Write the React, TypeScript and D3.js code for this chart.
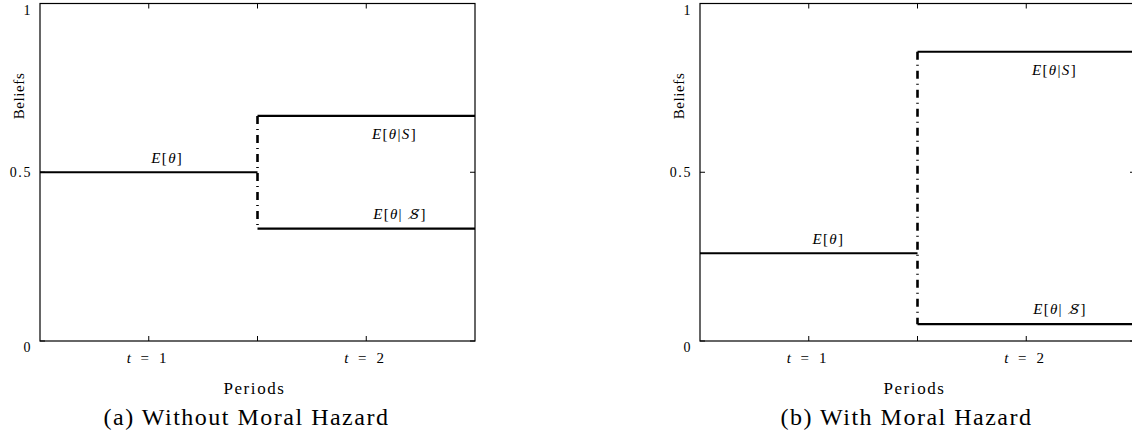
import React from "react";
import * as d3 from "d3";

// ---- data ----
const panelTitles = ["(a) Without Moral Hazard", "(b) With Moral Hazard"];
const priorBelief = [0.5, 0.26];
const successBelief = [0.667, 0.857];
const failureBelief = [0.333, 0.05];
const jumpAt = 2;
const xDomain = [0, 4];
const xTicks = [1, 2, 3];
const xTickLabelAt = [1, 3];
const xTickLabelText = ["1", "2"];
const yTicks = [0, 0.5, 1];
const yTickLabels = ["0", "0.5", "1"];
const priorLabelX = [1.17, 1.18];
const successLabelX = [3.26, 3.26];
const failureLabelX = [3.31, 3.31];

// ---- layout ----
const W = 1132;
const H = 440;
const panelLeft = [40, 700];
const plotW = 435;
const plotTop = 3.5;
const plotBottom = 341;
const tickLen = 5;
const yLabelDy = [11, 5, 11];
const FONT = "'Liberation Serif', 'DejaVu Serif', serif";

function MathE({ x, y, kind }: { x: number; y: number; kind: "prior" | "succ" | "fail" }) {
  const it = { fontStyle: "italic" as const };
  return (
    <text x={x} y={y} textAnchor="middle" fontFamily={FONT} fontSize={15} letterSpacing={1.3}>
      <tspan style={it}>E</tspan>
      <tspan>[</tspan>
      <tspan style={it}>θ</tspan>
      {kind === "prior" && <tspan>]</tspan>}
      {kind === "succ" && <tspan>|</tspan>}
      {kind === "succ" && <tspan style={it}>S</tspan>}
      {kind === "succ" && <tspan>]</tspan>}
      {kind === "fail" && <tspan>|</tspan>}
      {kind === "fail" && (
        <tspan style={it} dx={7} fontFamily="'DejaVu Serif', serif" fontSize={13.5}>
          {"S\u0338"}
        </tspan>
      )}
      {kind === "fail" && <tspan>]</tspan>}
    </text>
  );
}

function Panel({ i }: { i: number }) {
  const L = panelLeft[i];
  const x = d3.scaleLinear().domain(xDomain).range([L, L + plotW]);
  const y = d3.scaleLinear().domain([0, 1]).range([plotBottom, plotTop]);
  const line = d3
    .line<[number, number]>()
    .x((d) => x(d[0]))
    .y((d) => y(d[1]));
  const prior = line([
    [xDomain[0], priorBelief[i]],
    [jumpAt, priorBelief[i]],
  ]);
  const succ = line([
    [jumpAt, successBelief[i]],
    [xDomain[1], successBelief[i]],
  ]);
  const fail = line([
    [jumpAt, failureBelief[i]],
    [xDomain[1], failureBelief[i]],
  ]);
  const jump = line([
    [jumpAt, successBelief[i]],
    [jumpAt, failureBelief[i]],
  ]);
  const cx = (x(xDomain[0]) + x(xDomain[1])) / 2;
  return (
    <g>
      {/* frame */}
      <rect
        x={x(xDomain[0])}
        y={y(1)}
        width={x(xDomain[1]) - x(xDomain[0])}
        height={y(0) - y(1)}
        fill="none"
        stroke="#000"
        strokeWidth={1.2}
      />
      {/* ticks */}
      {xTicks.map((t) => (
        <g key={"xt" + t}>
          <line x1={x(t)} x2={x(t)} y1={y(0)} y2={y(0) - tickLen} stroke="#000" strokeWidth={1} />
          <line x1={x(t)} x2={x(t)} y1={y(1)} y2={y(1) + tickLen} stroke="#000" strokeWidth={1} />
        </g>
      ))}
      {yTicks.map((t) => (
        <g key={"yt" + t}>
          <line x1={x(xDomain[0])} x2={x(xDomain[0]) + tickLen} y1={y(t)} y2={y(t)} stroke="#000" strokeWidth={1} />
          <line x1={x(xDomain[1])} x2={x(xDomain[1]) - tickLen} y1={y(t)} y2={y(t)} stroke="#000" strokeWidth={1} />
        </g>
      ))}
      {/* y tick labels */}
      {yTicks.map((t, k) => (
        <text
          key={"yl" + t}
          x={x(xDomain[0]) - 8}
          y={y(t) + yLabelDy[k]}
          textAnchor="end"
          fontFamily={FONT}
          fontSize={14}
          letterSpacing={1.6}
        >
          {yTickLabels[k]}
        </text>
      ))}
      {/* x tick labels */}
      {xTickLabelAt.map((t, k) => (
        <g key={"xl" + t} fontFamily={FONT} fontSize={15}>
          <text x={x(t) - 20} y={y(0) + 22} textAnchor="middle" fontStyle="italic">
            t
          </text>
          <text x={x(t) - 4} y={y(0) + 22} textAnchor="middle">
            =
          </text>
          <text x={x(t) + 14} y={y(0) + 22} textAnchor="middle">
            {xTickLabelText[k]}
          </text>
        </g>
      ))}
      {/* axis titles */}
      <text
        transform={`translate(${x(xDomain[0]) - 16},96) rotate(-90)`}
        textAnchor="middle"
        fontFamily={FONT}
        fontSize={15}
        letterSpacing={0.6}
      >
        Beliefs
      </text>
      <text x={cx - 3} y={394} textAnchor="middle" fontFamily={FONT} fontSize={17} letterSpacing={1.6}>
        Periods
      </text>
      <text x={cx - 11} y={425} textAnchor="middle" fontFamily={FONT} fontSize={24} letterSpacing={1.5}>
        {panelTitles[i]}
      </text>
      {/* belief paths */}
      <path d={prior ?? ""} fill="none" stroke="#000" strokeWidth={2.2} />
      <path d={succ ?? ""} fill="none" stroke="#000" strokeWidth={2.2} />
      <path d={fail ?? ""} fill="none" stroke="#000" strokeWidth={2.2} />
      <path d={jump ?? ""} fill="none" stroke="#000" strokeWidth={2.6} strokeDasharray="8 5 1 5" />
      {/* labels */}
      <MathE x={x(priorLabelX[i])} y={y(priorBelief[i]) - 9} kind="prior" />
      <MathE x={x(successLabelX[i])} y={y(successBelief[i]) + 23} kind="succ" />
      <MathE x={x(failureLabelX[i])} y={y(failureBelief[i]) - 10} kind="fail" />
    </g>
  );
}

export default function App() {
  return (
    <svg
      width={W}
      height={H}
      viewBox={`0 0 ${W} ${H}`}
      style={{ position: "absolute", left: 0, top: 0, background: "#fff" }}
    >
      <rect x={0} y={0} width={W} height={H} fill="#fff" />
      {panelTitles.map((_, i) => (
        <Panel key={i} i={i} />
      ))}
    </svg>
  );
}
